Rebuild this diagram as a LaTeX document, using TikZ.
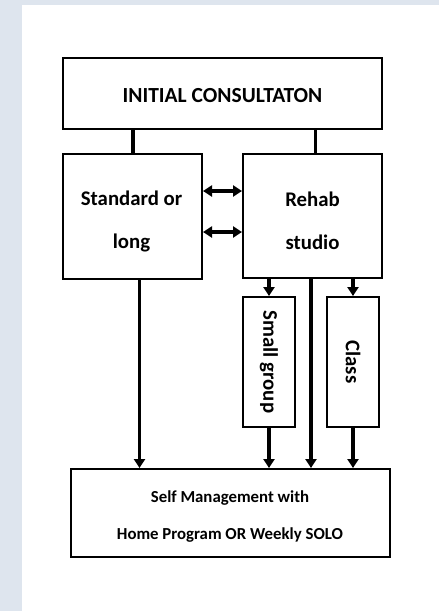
\documentclass[tikz,border=0pt]{standalone}
\usepackage{fontspec}
\setmainfont{Carlito}
\usetikzlibrary{arrows.meta}
\definecolor{bgblue}{HTML}{DEE5EE}
\begin{document}
\begin{tikzpicture}[x=1pt,y=-1pt,
  box/.style={draw=black,line width=2pt,fill=white,inner sep=0pt,font=\bfseries},
  lbl/.style={inner sep=0pt,align=center},
  conn/.style={line width=3.5pt},
  arr/.style={line width=3.5pt,-{Triangle[length=9pt,width=11pt]}},
  darr/.style={line width=3.5pt,{Triangle[length=9pt,width=11pt]}-{Triangle[length=9pt,width=11pt]}}]
\useasboundingbox (0,0) rectangle (439,611);
\fill[bgblue] (0,0) rectangle (439,611);
\fill[white] (22,5) rectangle (439,611);
% nodes
\node[box,minimum width=319pt,minimum height=71pt] (init) at (222.5,93.5) {};
\node[lbl,font=\bfseries\fontsize{21.5}{24}\selectfont] (initt) at (222.5,96) {INITIAL CONSULTATON};
\node[box,minimum width=139pt,minimum height=125pt] (std) at (132.5,216.5) {};
\node[lbl,font=\bfseries\fontsize{20.8}{43}\selectfont] (stdt) at (131.5,221) {Standard or\\long};
\node[box,minimum width=139pt,minimum height=124pt] (rehab) at (312.5,216) {};
\node[lbl,font=\bfseries\fontsize{20.8}{43}\selectfont] (rehabt) at (312.5,221) {Rehab\\studio};
\node[box,minimum width=52pt,minimum height=130pt] (sg) at (269,362) {};
\node[rotate=-90,font=\bfseries\fontsize{20.8}{22}\selectfont] (sgt) at (sg.center) {Small group};
\node[box,minimum width=52pt,minimum height=130pt] (cls) at (353,362) {};
\node[rotate=-90,font=\bfseries\fontsize{20.8}{22}\selectfont] (clst) at (cls.center) {Class};
\node[box,minimum width=319pt,minimum height=88pt] (self) at (230.5,513) {};
\node[lbl,font=\bfseries\fontsize{16.8}{37}\selectfont] (selft) at (230,516.5) {Self Management with\\Home Program OR Weekly SOLO};
% helper coordinates
\coordinate (xl) at (133,0);
\coordinate (xr) at (315.5,0);
\coordinate (ya) at (0,191);
\coordinate (yb) at (0,232);
\coordinate (xs) at (139.5,0);
\coordinate (xm) at (311,0);
% connectors
\draw[conn] (init.south -| xl) -- (std.north -| xl);
\draw[conn] (init.south -| xr) -- (rehab.north -| xr);
\draw[darr] (std.east |- ya) -- (rehab.west |- ya);
\draw[darr] (std.east |- yb) -- (rehab.west |- yb);
\draw[arr] (rehab.south -| sg.north) -- (sg.north);
\draw[arr] (rehab.south -| cls.north) -- (cls.north);
\draw[arr] (std.south -| xs) -- (self.north -| xs);
\draw[arr] (rehab.south -| xm) -- (self.north -| xm);
\draw[arr] (sg.south) -- (self.north -| sg.south);
\draw[arr] (cls.south) -- (self.north -| cls.south);
\end{tikzpicture}
\end{document}
